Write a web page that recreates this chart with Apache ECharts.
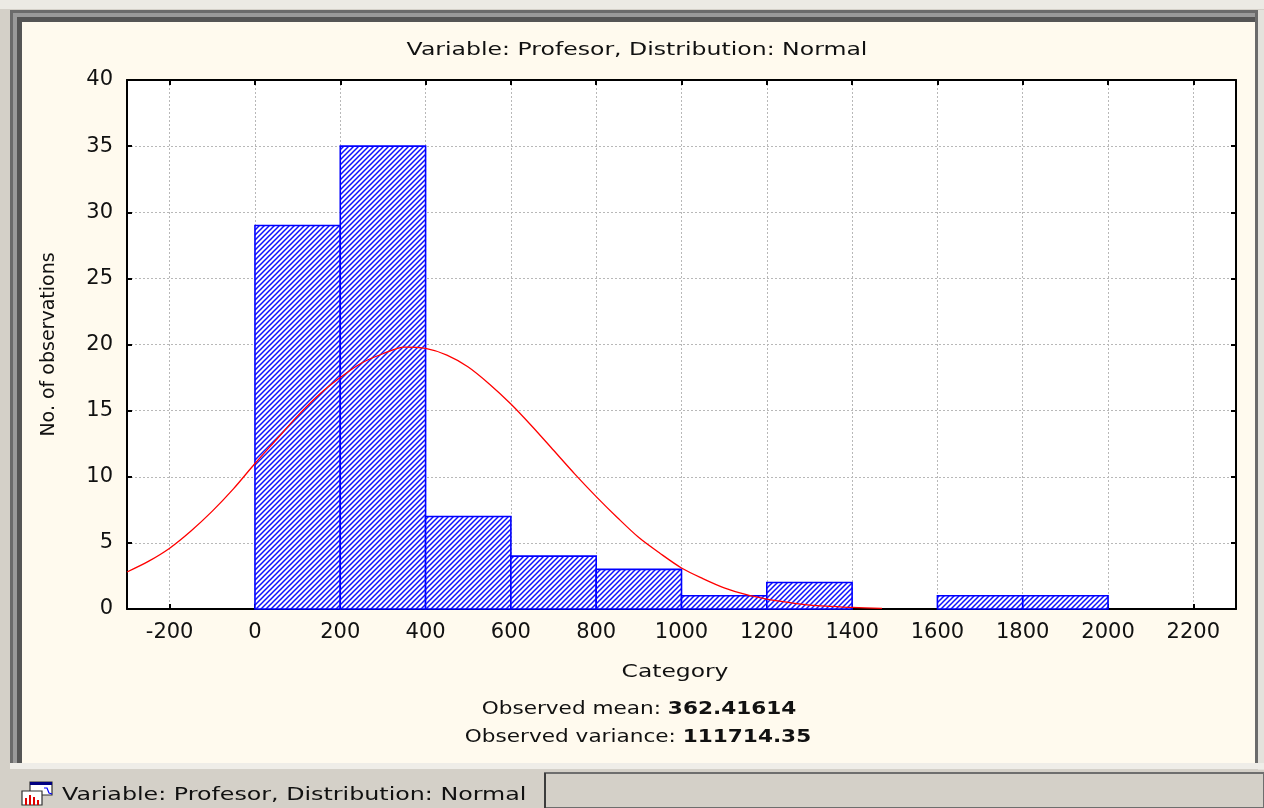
<!DOCTYPE html>
<html>
<head>
<meta charset="utf-8">
<script src="https://cdn.jsdelivr.net/npm/echarts@6/dist/echarts.min.js"></script>
<style>
html,body{margin:0;padding:0;background:#d4d0c8;}
#chart{width:1264px;height:808px;}
</style>
</head>
<body>
<div id="chart"></div>
<script>
// ---- data ----
const titleText = 'Variable: Profesor, Distribution: Normal';
const xAxisName = 'Category';
const yAxisName = 'No. of observations';
const xTicks = [-200, 0, 200, 400, 600, 800, 1000, 1200, 1400, 1600, 1800, 2000, 2200];
const yTicks = [0, 5, 10, 15, 20, 25, 30, 35, 40];
const binEdges = [0, 200, 400, 600, 800, 1000, 1200, 1400, 1600, 1800, 2000];
const counts = [29, 35, 7, 4, 3, 1, 2, 0, 1, 1];
const curveX = [-300, -250, -200, -150, -100, -50, 0, 50, 100, 150, 200, 250, 300, 350, 400, 450, 500, 550, 600, 650, 700, 750, 800, 850, 900, 950, 1000, 1050, 1100, 1150, 1200, 1250, 1300, 1350, 1400, 1470];
const curveY = [2.8, 3.6, 4.6, 5.9, 7.4, 9.1, 11.0, 12.8, 14.6, 16.2, 17.5, 18.6, 19.3, 19.8, 19.7, 19.2, 18.3, 17.0, 15.5, 13.8, 12.0, 10.2, 8.5, 6.9, 5.4, 4.2, 3.1, 2.3, 1.6, 1.1, 0.75, 0.5, 0.3, 0.2, 0.12, 0.05];
const observedMean = '362.41614';
const observedVariance = '111714.35';

// ---- styles ----
const FONT = 'DejaVu Sans';
const pat = document.createElement('canvas');
pat.width = 5; pat.height = 5;
(function(){
  const c = pat.getContext('2d');
  c.fillStyle = '#ffffff'; c.fillRect(0,0,5,5);
  c.strokeStyle = '#1010ff'; c.lineWidth = 1.5;
  c.beginPath();
  c.moveTo(-1,6); c.lineTo(6,-1);
  c.moveTo(-1,1); c.lineTo(1,-1);
  c.moveTo(4,6); c.lineTo(6,4);
  c.stroke();
})();
const hatch = {image: pat, repeat: 'repeat'};

const barData = counts.map((c, i) => [binEdges[i], binEdges[i+1], c]).filter(d => d[2] > 0);
const curveData = curveX.map((x, i) => [x, curveY[i]]);

const chart = echarts.init(document.getElementById('chart'), null, {renderer: 'canvas'});

const gridLine = {show: true, lineStyle: {color: '#b8b8b8', width: 1, type: [2, 2]}};
const axisLine = {show: true, onZero: false, lineStyle: {color: '#000', width: 2}};
const tickStyle = {color: '#000', width: 2};
const plain = v => String(v);

const option = {
  backgroundColor: '#d4d0c8',
  animation: false,
  grid: {left: 127, right: 28, top: 80, bottom: 199, show: true, backgroundColor: '#ffffff', borderWidth: 0},
  xAxis: [{
    type: 'value', min: -300, max: 2300, position: 'bottom',
    axisLine: axisLine,
    axisTick: {show: true, inside: true, length: 5, customValues: xTicks, lineStyle: tickStyle},
    axisLabel: {customValues: xTicks, formatter: plain, fontFamily: FONT, fontSize: 21, color: '#111', margin: 13},
    splitLine: gridLine
  }, {
    type: 'value', min: -300, max: 2300, position: 'top',
    axisLine: axisLine,
    axisTick: {show: true, inside: true, length: 5, customValues: xTicks, lineStyle: tickStyle},
    axisLabel: {show: false},
    splitLine: {show: false}
  }],
  yAxis: [{
    type: 'value', min: 0, max: 40, interval: 5, position: 'left',
    name: yAxisName, nameLocation: 'middle', nameGap: 68,
    nameTextStyle: {fontFamily: FONT, fontSize: 19, color: '#111'},
    axisLine: axisLine,
    axisTick: {show: true, inside: true, length: 5, customValues: yTicks, lineStyle: tickStyle},
    axisLabel: {customValues: yTicks, formatter: plain, fontFamily: FONT, fontSize: 21, color: '#111', margin: 14},
    splitLine: gridLine
  }, {
    type: 'value', min: 0, max: 40, interval: 5, position: 'right',
    axisLine: axisLine,
    axisTick: {show: true, inside: true, length: 5, customValues: yTicks, lineStyle: tickStyle},
    axisLabel: {show: false},
    splitLine: {show: false}
  }],
  series: [{
    type: 'custom',
    xAxisIndex: 0, yAxisIndex: 0,
    data: barData,
    encode: {x: [0, 1], y: 2},
    z: 3,
    renderItem: function (params, api) {
      const p0 = api.coord([api.value(0), api.value(2)]);
      const p1 = api.coord([api.value(1), 0]);
      return {
        type: 'rect',
        shape: {x: p0[0], y: p0[1], width: p1[0] - p0[0], height: p1[1] - p0[1]},
        style: {fill: hatch, stroke: '#0000ff', lineWidth: 1.6}
      };
    }
  }, {
    type: 'line',
    xAxisIndex: 0, yAxisIndex: 0,
    data: curveData,
    smooth: 0.3,
    showSymbol: false,
    clip: true,
    z: 5,
    lineStyle: {color: '#ff0000', width: 1.3}
  }],
  graphic: [
    {type: 'rect', z: -20, shape: {x: 0, y: 0, width: 1264, height: 9}, style: {fill: '#eceae4'}},
    {type: 'rect', z: -19, shape: {x: 10, y: 10, width: 1248, height: 753}, style: {fill: '#6b6b6b'}},
    {type: 'rect', z: -18, shape: {x: 13, y: 13, width: 1242, height: 750}, style: {fill: '#9a9a9a'}},
    {type: 'rect', z: -17, shape: {x: 17, y: 17, width: 1238, height: 746}, style: {fill: '#555555'}},
    {type: 'rect', z: -16, shape: {x: 22, y: 22, width: 1233, height: 741}, style: {fill: '#fffaee'}},
    {type: 'rect', z: -16, shape: {x: 1258, y: 10, width: 6, height: 760}, style: {fill: '#e4e2dc'}},
    {type: 'rect', z: -16, shape: {x: 10, y: 763, width: 1254, height: 6}, style: {fill: '#efede8'}},
    {type: 'rect', z: -15, shape: {x: 545, y: 773, width: 719, height: 35}, style: {fill: '#d4d0c8', stroke: '#6e6e6e', lineWidth: 2}},
    {type: 'line', z: -15, shape: {x1: 545, y1: 773, x2: 545, y2: 808}, style: {stroke: '#3c3c3c', lineWidth: 2}},
    // tab icon
    {type: 'rect', z: -14, shape: {x: 30, y: 782, width: 22, height: 13}, style: {fill: '#ffffff', stroke: '#333', lineWidth: 1.2}},
    {type: 'rect', z: -14, shape: {x: 30, y: 782, width: 22, height: 3}, style: {fill: '#000080'}},
    {type: 'rect', z: -13, shape: {x: 22, y: 791, width: 20, height: 14}, style: {fill: '#ffffff', stroke: '#333', lineWidth: 1.2}},
    {type: 'rect', z: -12, shape: {x: 25, y: 798, width: 2, height: 7}, style: {fill: '#e00000'}},
    {type: 'rect', z: -12, shape: {x: 29, y: 795, width: 2, height: 10}, style: {fill: '#e00000'}},
    {type: 'rect', z: -12, shape: {x: 33, y: 797, width: 2, height: 8}, style: {fill: '#e00000'}},
    {type: 'rect', z: -12, shape: {x: 37, y: 800, width: 2, height: 5}, style: {fill: '#e00000'}},
    {type: 'polyline', z: -12, shape: {points: [[44,788],[47,788],[49,793],[52,794]]}, style: {stroke: '#0000ff', lineWidth: 1.2, fill: null}},
    // texts
    {type: 'text', z: 50, x: 637, y: 50, scaleX: 1.31,
      style: {text: titleText, font: '18px "' + FONT + '"', fill: '#111', align: 'center', verticalAlign: 'middle'}},
    {type: 'text', z: 50, x: 675, y: 672, scaleX: 1.3,
      style: {text: xAxisName, font: '18px "' + FONT + '"', fill: '#111', align: 'center', verticalAlign: 'middle'}},
    {type: 'text', z: 50, x: 639, y: 709, scaleX: 1.2,
      style: {text: '{a|Observed mean: }{b|' + observedMean + '}', align: 'center', verticalAlign: 'middle',
        rich: {a: {font: '18px "' + FONT + '"', fill: '#111'}, b: {font: 'bold 18px "' + FONT + '"', fill: '#111'}}}},
    {type: 'text', z: 50, x: 638, y: 737, scaleX: 1.2,
      style: {text: '{a|Observed variance: }{b|' + observedVariance + '}', align: 'center', verticalAlign: 'middle',
        rich: {a: {font: '18px "' + FONT + '"', fill: '#111'}, b: {font: 'bold 18px "' + FONT + '"', fill: '#111'}}}},
    {type: 'text', z: 50, x: 62, y: 795, scaleX: 1.32,
      style: {text: titleText, font: '18px "' + FONT + '"', fill: '#111', align: 'left', verticalAlign: 'middle'}}
  ]
};
chart.setOption(option);
</script>
</body>
</html>
